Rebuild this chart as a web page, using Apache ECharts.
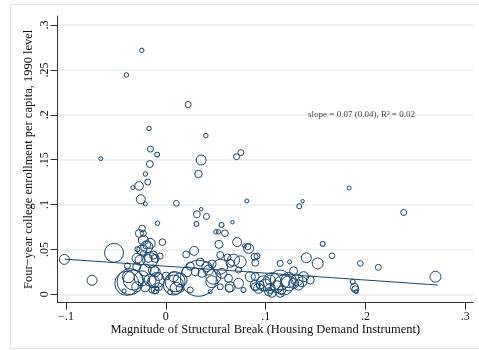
<!DOCTYPE html>
<html><head><meta charset="utf-8">
<script src="https://cdn.jsdelivr.net/npm/echarts@6/dist/echarts.min.js"></script>
<style>html,body{margin:0;padding:0;background:#fff}#c{width:479px;height:350px}</style>
</head><body><div id="c"></div>
<script>
// ---------- data ----------
const xTickVals = [-0.1, 0, 0.1, 0.2, 0.3];
const xTickLabels = ['\u2212.1', '0', '.1', '.2', '.3'];
const yTickVals = [0, 0.05, 0.1, 0.15, 0.2, 0.25, 0.3];
const yTickLabels = ['0', '.05', '.1', '.15', '.2', '.25', '.3'];

const xTitle = 'Magnitude of Structural Break (Housing Demand Instrument)';
const yTitle = 'Four\u2212year college enrollment per capita, 1990 level';

// structural break magnitude (x)
const breakMag = [
 -0.0241,-0.0395, 0.0224,-0.0168, 0.0401,-0.0154,-0.0087,-0.0652,-0.0160, 0.0354,
  0.0708, 0.0752,-0.0205, 0.0327,-0.0181,-0.0268,-0.0331,-0.0251,-0.0205, 0.0106,
  0.0354, 0.0311, 0.0407, 0.0307,-0.0084, 0.0502, 0.0528,-0.0238,-0.0225,-0.0034,
 -0.0519,-0.0191, 0.0204, 0.0284, 0.0532, 0.0545, 0.0812, 0.1337, 0.1370, 0.0558,
  0.0668, 0.0592, 0.0715, 0.0788, 0.0829, 0.0678, 0.0889, 0.0896, 0.1146, 0.1240,
  0.1407, 0.1521, 0.1280, 0.0728, 0.0635, 0.0477, 0.0411, 0.0979, 0.1063, 0.1146,
  0.1230, 0.0929, 0.1029, 0.1314, 0.1380, 0.1447, 0.1163, 0.1836, 0.2383, 0.1571,
  0.1665, 0.1949, 0.2129, 0.2701, 0.1872, 0.1889, 0.1899, 0.1906, 0.1364,-0.1017,
 -0.0739,-0.0358,-0.0285,-0.0385,-0.0418,-0.0288,-0.0157,-0.0175,-0.0124,-0.0057,
 -0.0090,-0.0107,-0.0208,-0.0090, 0.0076, 0.0103, 0.0327, 0.0093,-0.0225,-0.0157,
 -0.0107,-0.0074,-0.0124,-0.0107,-0.0208, 0.0076, 0.0211, 0.0294, 0.0361, 0.0427,
  0.0461, 0.0545, 0.0562, 0.0628, 0.0645, 0.0545, 0.0444, 0.0244, 0.0143, 0.0728,
  0.0846, 0.0896, 0.0778,-0.0225,-0.0191,-0.0241,-0.0258,-0.0107,-0.0291,-0.0124,
 -0.0375,-0.0325,-0.0241,-0.0157,-0.0074,-0.0140,-0.0291,-0.0391,-0.0265, 0.0946,
  0.0996, 0.1046, 0.1046, 0.1113, 0.1180, 0.1230, 0.1280, 0.1330, 0.1146, 0.1063,
  0.0896, 0.0896, 0.0822, 0.0913, 0.0618, 0.0645, 0.0745, 0.0344, 0.0244, 0.0464,
  0.0003, 0.0043, 0.0143
];
// four-year college enrollment per capita (y)
const enrollment = [
  0.2718, 0.2444, 0.2114, 0.1848, 0.1767, 0.1618, 0.1556, 0.1511, 0.1451, 0.1496,
  0.1533, 0.1578, 0.1340, 0.1340, 0.1251, 0.1207, 0.1189, 0.1059, 0.1007, 0.1014,
  0.0948, 0.0892, 0.0867, 0.0784, 0.0792, 0.0696, 0.0696, 0.0733, 0.0678, 0.0581,
  0.0462, 0.0529, 0.0444, 0.0484, 0.0556, 0.0437, 0.1040, 0.0981, 0.1037, 0.0773,
  0.0803, 0.0681, 0.0581, 0.0540, 0.0511, 0.0381, 0.0418, 0.0351, 0.0344, 0.0362,
  0.0407, 0.0344, 0.0262, 0.0122, 0.0067, 0.0196, 0.0307, 0.0122, 0.0140, 0.0159,
  0.0122, 0.0067, 0.0029, 0.0159, 0.0196, 0.0159, 0.0048, 0.1184, 0.0911, 0.0562,
  0.0429, 0.0344, 0.0300, 0.0196, 0.0140, 0.0078, 0.0056, 0.0029, 0.0140, 0.0389,
  0.0156, 0.0140, 0.0503, 0.0318, 0.0037, 0.0400, 0.0567, 0.0400, 0.0437, 0.0426,
  0.0067, 0.0029, 0.0084, 0.0159, 0.0103, 0.0067, 0.0178, 0.0140, 0.0456, 0.0381,
  0.0251, 0.0196, 0.0140, 0.0048, 0.0270, 0.0196, 0.0251, 0.0251, 0.0233, 0.0270,
  0.0140, 0.0307, 0.0233, 0.0178, 0.0084, 0.0084, 0.0029, 0.0048, 0.0067, 0.0270,
  0.0196, 0.0084, 0.0048, 0.0603, 0.0548, 0.0492, 0.0381, 0.0400, 0.0307, 0.0270,
  0.0196, 0.0159, 0.0178, 0.0159, 0.0084, 0.0048, 0.0084, 0.0122, 0.0678, 0.0103,
  0.0103, 0.0159, 0.0067, 0.0084, 0.0103, 0.0159, 0.0122, 0.0103, 0.0011, 0.0011,
  0.0196, 0.0103, 0.0529, 0.0426, 0.0411, 0.0344, 0.0362, 0.0359, 0.0314, 0.0337,
  0.0203, 0.0026, 0.0159
];
// population weights (marker area)
const popWeight = [
   5,  5,  9,  5,  5,  9,  6,  4, 12, 25,
   9,  9,  5, 14,  9, 18,  4, 20,  4,  8,
   3, 12,  9,  6,  5,  5,  5, 11,  9, 11,
  90, 36, 12, 20, 16, 12,  4,  6,  3,  6,
   3, 11, 20,  4, 25, 36, 12, 12,  9,  4,
  25, 30, 16, 25, 16, 56, 25, 56, 81,100,
  56, 25, 16, 36, 25, 16, 16,  4,  9,  6,
   8,  8,  9, 30,  6, 16, 12,  4, 25, 25,
  25,169,  6,  9,  4, 25, 25, 16, 16,  9,
   4,  4, 25, 56,100, 36,324,100,  9, 56,
  25, 16, 36, 16, 36, 25, 25, 16, 16, 25,
  36, 56, 25, 16, 25,  9,  4,  9, 16,  9,
  25, 16,  6, 25, 16, 25, 25, 16, 16, 25,
  36,100, 56, 36, 16,  9, 25,144, 16, 16,
  36, 25, 25, 36,100, 56, 25, 25, 16, 16,
  16, 25,  9,  9, 12, 16, 36, 16, 16, 16,
  16,  6, 49
];
// fitted line end points
const fitX = [-0.1017, 0.2724];
const fitY = [0.0392, 0.0103];
// annotation
const noteX = [0.196];
const noteY = [0.2];
const noteText = 'slope = 0.07 (0.04), R\u00B2 = 0.02';

// ---------- chart ----------
const SERIF = '"Liberation Serif","Times New Roman","DejaVu Serif",serif';
const INK = '#1a476f';
const AXIS = '#333333';

const points = breakMag.map((x, i) => [x, enrollment[i], popWeight[i]]);
const fitLine = fitX.map((x, i) => [x, fitY[i]]);
const notePts = noteX.map((x, i) => [x, noteY[i]]);

function lab(vals, labels) {
  return v => {
    for (let i = 0; i < vals.length; i++) if (Math.abs(vals[i] - v) < 1e-6) return labels[i];
    return '';
  };
}

const chart = echarts.init(document.getElementById('c'), null, {renderer: 'canvas'});
chart.setOption({
  animation: false,
  backgroundColor: '#ffffff',
  graphic: [{
    type: 'rect', silent: true, z: -10,
    shape: {x: 10.5, y: 4.5, width: 480, height: 344},
    style: {fill: 'none', stroke: '#dfe7eb', lineWidth: 1}
  }],
  grid: [
    {left: 66, right: 13.7, top: 25, bottom: 55.7},
    {left: 57.5, right: 6, top: 16, bottom: 47.3},
    {left: 57.5, right: 6, top: 25, bottom: 55.7}
  ],
  xAxis: [
    {gridIndex: 0, type: 'value', min: -0.1, max: 0.3, interval: 0.1, offset: 8.4,
     axisLine: {show: false, onZero: false},
     axisTick: {show: true, length: 7, lineStyle: {color: AXIS, width: 1}},
     axisLabel: {margin: 8, fontFamily: SERIF, fontSize: 12, color: '#111', formatter: lab(xTickVals, xTickLabels)},
     splitLine: {show: false}},
    {gridIndex: 1, type: 'value', min: 0, max: 1,
     axisLine: {show: true, onZero: false, lineStyle: {color: AXIS, width: 1}},
     axisTick: {show: false}, axisLabel: {show: false}, splitLine: {show: false},
     name: xTitle, nameLocation: 'middle', nameGap: 21,
     nameTextStyle: {fontFamily: SERIF, fontSize: 12.5, color: '#111'}},
    {gridIndex: 2, type: 'value', min: 0, max: 1, show: false}
  ],
  yAxis: [
    {gridIndex: 0, type: 'value', min: 0, max: 0.3, interval: 0.05, offset: 8.5,
     axisLine: {show: false, onZero: false},
     axisTick: {show: true, length: 7, lineStyle: {color: AXIS, width: 1}},
     axisLabel: {margin: 7, rotate: 90, fontFamily: SERIF, fontSize: 12, color: '#111', formatter: lab(yTickVals, yTickLabels)},
     splitLine: {show: false}},
    {gridIndex: 1, type: 'value', min: 0, max: 1,
     axisLine: {show: true, onZero: false, lineStyle: {color: AXIS, width: 1}},
     axisTick: {show: false}, axisLabel: {show: false}, splitLine: {show: false},
     name: yTitle, nameLocation: 'middle', nameRotate: 90, nameGap: 22,
     nameTextStyle: {fontFamily: SERIF, fontSize: 12.5, color: '#111'}},
    {gridIndex: 2, type: 'value', min: 0, max: 0.3, interval: 0.05,
     axisLine: {show: false}, axisTick: {show: false}, axisLabel: {show: false},
     splitLine: {show: true, lineStyle: {color: '#e8eff2', width: 1.5}}}
  ],
  series: [
    {type: 'scatter', xAxisIndex: 0, yAxisIndex: 0, clip: false, silent: true,
     data: points,
     symbol: 'circle',
     symbolSize: v => 2 * Math.sqrt(v[2]),
     itemStyle: {color: 'rgba(0,0,0,0)', borderColor: INK, borderWidth: 1, opacity: 1}},
    {type: 'line', xAxisIndex: 0, yAxisIndex: 0, clip: false, silent: true,
     data: fitLine, showSymbol: false, symbol: 'none',
     lineStyle: {color: INK, width: 1}},
    {type: 'scatter', xAxisIndex: 0, yAxisIndex: 0, clip: false, silent: true,
     data: notePts, symbolSize: 1, itemStyle: {color: 'rgba(0,0,0,0)'},
     label: {show: true, position: 'inside', formatter: noteText,
             fontFamily: SERIF, fontSize: 9, color: '#111'}}
  ]
});
</script>
</body></html>
